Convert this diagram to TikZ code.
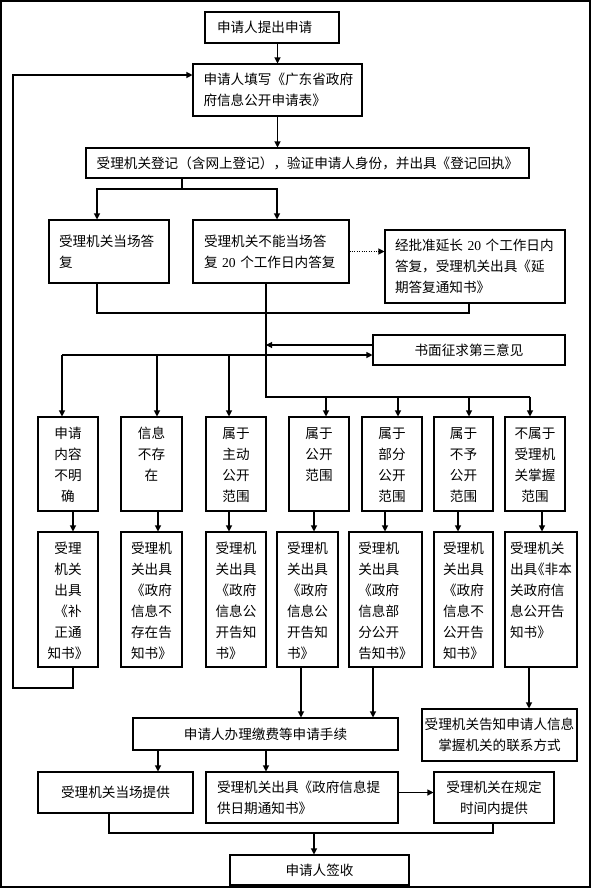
\documentclass[tikz,border=0pt]{standalone}
\usepackage{fontspec}
\setmainfont{Noto Sans CJK SC}
\newfontfamily\latin{Liberation Serif}
\usetikzlibrary{arrows.meta}
\newdimen\px \px=0.75pt
% box with text set from the top
\newcommand\topcell[4]{\parbox[c][#2\px][t]{#1\px}{\centering\vspace*{5pt}\begin{tabular}[t]{@{}#3@{}}#4\end{tabular}\par}}
\tikzset{
  cellbox/.style={draw,line width=.8pt,inner sep=0pt,font=\fontsize{10.2}{15.75}\selectfont},
  box/.style={cellbox,align=center},
  sz/.style 2 args={minimum width=#1*\px,minimum height=#2*\px},
  lft/.style={align=left,text width=#1*\px},
  link/.style={line width=.8pt},
  arr/.style={line width=.8pt,-{Triangle[length=4.5pt,width=4.5pt]}},
  dotarr/.style={arr,densely dotted}
}
\begin{document}
\begin{tikzpicture}[x=0.75pt,y=-0.75pt]
  \useasboundingbox (0,0) rectangle (592,889);
  \draw[link] (1,1) rectangle (590,887);

  % application and registration
  \node[box,sz={134}{31},lft=110] (apply) at (272,27.5) {申请人提出申请};
  \node[box,sz={169}{52},lft=148] (form) at (277.5,90) {申请人填写《广东省政府\\府信息公开申请表》};
  \node[box,sz={443}{30}] (reg) at (307.5,163) {受理机关登记（含网上登记），验证申请人身份，并出具《登记回执》};
  \node[box,sz={120}{63},lft=100] (onsite) at (109,251.5) {受理机关当场答\\复};
  \node[box,sz={156}{63},lft=134] (defer) at (271,251.5) {受理机关不能当场答\\复~{\latin 20}~个工作日内答复};
  \node[box,sz={180}{73},lft=160] (extend) at (475,266.5) {经批准延长~{\latin 20}~个工作日内\\答复，受理机关出具《延\\期答复通知书》};
  \node[box,sz={192}{30}] (third) at (469,350) {书面征求第三意见};

  \draw[arr] (apply.south -| form.north) -- (form.north);
  \draw[arr] (form.south) -- (form.south |- reg.north);
  \coordinate (f1) at (182,189);
  \draw[link] (reg.south -| f1) -- (f1);
  \draw[arr] (f1) -| (onsite.north -| 97,0);
  \draw[arr] (f1) -| (defer.north -| 277,0);
  \draw[dotarr] (defer.east) -- (defer.east -| extend.west);

  % merge and trunk
  \coordinate (j1) at (266,313);
  \coordinate (j2) at (266,397);
  \coordinate (h1) at (62,355);
  \coordinate (h2) at (530,397);
  \draw[link] (onsite.south -| 97,0) |- (j1) -| (extend.south -| 469,0);
  \draw[link] (defer.south -| j1) -- (j2) -- (h2);
  \draw[arr] ([yshift=3.75pt]third.west) -- ([yshift=3.75pt]third.west -| j1);
  \draw[arr] (h1) -- ([yshift=-3.75pt]third.west);

  % kinds of answer
  \node[cellbox] (unclear) at (68,464) {\topcell{60}{94}{c}{申请\\内容\\不明\\确}};
  \node[cellbox] (nonexist) at (151.5,464) {\topcell{61}{94}{c}{信息\\不存\\在}};
  \node[cellbox] (active) at (236,464) {\topcell{60}{94}{c}{属于\\主动\\公开\\范围}};
  \node[cellbox] (open) at (319,464) {\topcell{60}{94}{c}{属于\\公开\\范围}};
  \node[cellbox] (partial) at (392,464) {\topcell{60}{94}{c}{属于\\部分\\公开\\范围}};
  \node[cellbox] (withheld) at (463.5,464) {\topcell{59}{94}{c}{属于\\不予\\公开\\范围}};
  \node[cellbox] (notours) at (535,464) {\topcell{60}{94}{c}{不属于\\受理机\\关掌握\\范围}};

  \draw[arr] (h1) -- (unclear.north -| h1);
  \draw[arr] (h1 -| 157,0) -- (nonexist.north -| 157,0);
  \draw[arr] (h1 -| 229,0) -- (active.north -| 229,0);
  \draw[arr] (j2 -| 326,0) -- (open.north -| 326,0);
  \draw[arr] (j2 -| 398,0) -- (partial.north -| 398,0);
  \draw[arr] (j2 -| 469,0) -- (withheld.north -| 469,0);
  \draw[arr] (h2) -- (notours.north -| h2);

  % notices
  \node[cellbox] (fix) at (68,599.5) {\topcell{60}{135}{c}{受理\\机关\\出具\\《补\\正通\\知书》}};
  \node[cellbox] (noinfo) at (151.5,599.5) {\topcell{61}{135}{l}{受理机\\关出具\\《政府\\信息不\\存在告\\知书》}};
  \node[cellbox] (actnote) at (236,599.5) {\topcell{60}{135}{l}{受理机\\关出具\\《政府\\信息公\\开告知\\书》}};
  \node[cellbox] (opennote) at (307.5,599.5) {\topcell{61}{135}{l}{受理机\\关出具\\《政府\\信息公\\开告知\\书》}};
  \node[cellbox] (partnote) at (385.5,599.5) {\topcell{73}{135}{l}{受理机\\关出具\\《政府\\信息部\\分公开\\告知书》}};
  \node[cellbox] (denynote) at (463.5,599.5) {\topcell{59}{135}{l}{受理机\\关出具\\《政府\\信息不\\公开告\\知书》}};
  \node[cellbox] (refer) at (541,599.5) {\topcell{72}{135}{l}{受理机关\\出具\kern-.45em《非本\\关政府信\\息公开告\\知书》}};

  \draw[arr] (unclear.south -| 73,0) -- (fix.north -| 73,0);
  \draw[arr] (nonexist.south -| 158,0) -- (noinfo.north -| 158,0);
  \draw[arr] (active.south -| 229,0) -- (actnote.north -| 229,0);
  \draw[arr] (open.south -| 314,0) -- (opennote.north -| 314,0);
  \draw[arr] (partial.south -| 385,0) -- (partnote.north -| 385,0);
  \draw[arr] (withheld.south -| 458,0) -- (denynote.north -| 458,0);
  \draw[arr] (notours.south -| 542,0) -- (refer.north -| 542,0);

  % back to the form
  \coordinate (k1) at (13,688);
  \draw[arr] (fix.south -| 73,0) |- (k1) |- ([yshift=11.25pt]form.west);

  % providing the information
  \node[box,sz={265}{32}] (fee) at (265.5,734) {申请人办理缴费等申请手续};
  \node[box,sz={155}{52}] (contact) at (499.5,735) {受理机关告知申请人信息\\掌握机关的联系方式};
  \node[box,sz={155}{41}] (give) at (115.5,792.5) {受理机关当场提供};
  \node[box,sz={192}{51},lft=170] (datenote) at (302,797.5) {受理机关出具《政府信息提\\供日期通知书》};
  \node[box,sz={120}{51}] (later) at (494,797.5) {受理机关在规定\\时间内提供};
  \node[box,sz={179}{30}] (sign) at (319.5,870) {申请人签收};

  \draw[arr] (opennote.south -| 301,0) -- (fee.north -| 301,0);
  \draw[arr] (partnote.south -| 373,0) -- (fee.north -| 373,0);
  \draw[arr] (refer.south -| 529,0) -- (contact.north -| 529,0);
  \draw[arr] (fee.south -| 158,0) -- (give.north -| 158,0);
  \draw[arr] (fee.south -| 266,0) -- (datenote.north -| 266,0);
  \draw[arr] ([yshift=3.75pt]datenote.east) -- ([yshift=3.75pt]datenote.east -| later.west);
  \coordinate (m2) at (314,833);
  \draw[link] (give.south -| 109,0) |- (m2) -| (later.south -| 493,0);
  \draw[arr] (m2) -- (sign.north -| m2);
\end{tikzpicture}
\end{document}
